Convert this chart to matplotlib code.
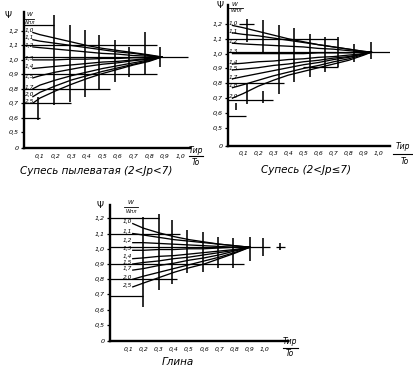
import matplotlib
matplotlib.use("Agg")
import matplotlib.pyplot as plt

plt.rcParams['font.family'] = ['DejaVu Sans']

# ---------------- shared axis data ----------------
x_tick_vals = [0.1, 0.2, 0.3, 0.4, 0.5, 0.6, 0.7, 0.8, 0.9, 1.0]
x_tick_labels = ["0,1", "0,2", "0,3", "0,4", "0,5", "0,6", "0,7", "0,8", "0,9", "1,0"]
y_tick_vals = [0.5, 0.6, 0.7, 0.8, 0.9, 1.0, 1.1, 1.2]
y_tick_labels = ["0,5", "0,6", "0,7", "0,8", "0,9", "1,0", "1,1", "1,2"]

# ---------------- panel 1: Супесь пылеватая ----------------
p1_title = "Супесь пылеватая (2<Jр<7)"
p1_labels = ["1,0", "1,1", "1,2", "1,3", "1,4", "1,5", "1,7", "2,0", "2,5"]
p1_x = [0.055, 0.1, 0.2, 0.3, 0.4, 0.5, 0.6, 0.7, 0.8, 0.88]
p1_psi = [
    [1.19, 1.175, 1.15, 1.125, 1.10, 1.08, 1.065, 1.05, 1.035, 1.02],
    [1.14, 1.13, 1.115, 1.10, 1.085, 1.07, 1.055, 1.045, 1.03, 1.02],
    [1.09, 1.085, 1.075, 1.065, 1.055, 1.045, 1.04, 1.03, 1.025, 1.02],
    [1.00, 1.00, 1.00, 1.005, 1.005, 1.01, 1.01, 1.015, 1.015, 1.02],
    [0.94, 0.945, 0.955, 0.965, 0.975, 0.985, 0.99, 1.00, 1.01, 1.02],
    [0.875, 0.89, 0.915, 0.935, 0.955, 0.97, 0.98, 0.995, 1.005, 1.02],
    [0.80, 0.825, 0.86, 0.89, 0.915, 0.94, 0.96, 0.98, 1.00, 1.02],
    [0.745, 0.775, 0.82, 0.86, 0.89, 0.92, 0.945, 0.97, 0.995, 1.02],
    [0.70, 0.735, 0.785, 0.83, 0.87, 0.905, 0.935, 0.965, 0.99, 1.02],
]
p1_vbar_x = [0.09, 0.19, 0.29, 0.39, 0.48, 0.58, 0.67, 0.77, 0.87]
p1_vbar_lo = [0.58, 0.69, 0.71, 0.745, 0.79, 0.85, 0.88, 0.895, 0.95]
p1_vbar_hi = [0.74, 1.31, 1.24, 1.21, 1.17, 1.14, 1.09, 1.195, 1.09]
p1_hbar_y = [1.24, 1.1, 1.02, 0.9, 0.8, 0.7, 0.6]
p1_hbar_x0 = [0.0, 0.0, 0.0, 0.0, 0.0, 0.0, 0.0]
p1_hbar_x1 = [0.19, 0.85, 1.05, 0.85, 0.55, 0.3, 0.1]

# ---------------- panel 2: Супесь ----------------
p2_title = "Супесь (2<Jр≤7)"
p2_labels = ["1,0", "1,1", "1,2", "1,3", "1,4", "1,5", "1,7", "1,8", "2,0"]
p2_x = [0.03, 0.1, 0.2, 0.3, 0.4, 0.5, 0.6, 0.7, 0.8, 0.9, 0.95]
p2_psi = [
    [1.19, 1.175, 1.15, 1.125, 1.10, 1.08, 1.06, 1.045, 1.03, 1.015, 1.01],
    [1.14, 1.13, 1.12, 1.105, 1.09, 1.075, 1.06, 1.045, 1.03, 1.015, 1.01],
    [1.07, 1.065, 1.06, 1.055, 1.05, 1.045, 1.035, 1.03, 1.02, 1.01, 1.01],
    [1.00, 1.00, 1.00, 1.00, 1.00, 1.00, 1.005, 1.005, 1.005, 1.01, 1.01],
    [0.93, 0.935, 0.945, 0.95, 0.96, 0.965, 0.975, 0.98, 0.99, 1.00, 1.01],
    [0.89, 0.895, 0.905, 0.92, 0.93, 0.945, 0.955, 0.97, 0.98, 1.00, 1.01],
    [0.83, 0.845, 0.865, 0.885, 0.905, 0.925, 0.94, 0.96, 0.975, 1.00, 1.01],
    [0.77, 0.79, 0.82, 0.85, 0.875, 0.90, 0.92, 0.945, 0.965, 0.995, 1.01],
    [0.70, 0.73, 0.78, 0.82, 0.855, 0.88, 0.905, 0.93, 0.955, 0.99, 1.01],
]
p2_vbar_x = [0.05, 0.124, 0.124, 0.234, 0.234, 0.338, 0.44, 0.543, 0.64, 0.73, 0.836, 0.95]
p2_vbar_lo = [0.62, 1.08, 0.66, 1.00, 0.67, 0.73, 0.81, 0.84, 0.877, 0.91, 0.945, 0.966]
p2_vbar_hi = [0.67, 1.236, 0.80, 1.23, 0.75, 1.19, 1.17, 1.135, 1.113, 1.11, 1.067, 1.08]
p2_hbar_y = [1.2, 1.1, 1.01, 0.91, 0.8, 0.69, 0.58]
p2_hbar_x0 = [0.07, 0.0, 0.0, 0.5, 0.0, 0.0, 0.0]
p2_hbar_x1 = [0.17, 0.73, 1.07, 0.73, 0.37, 0.30, 0.12]

# ---------------- panel 3: Глина ----------------
p3_title = "Глина"
p3_labels = ["1,0", "1,1", "1,2", "1,3", "1,4", "1,5", "1,7", "2,0", "2,5"]
p3_x = [0.13, 0.2, 0.3, 0.4, 0.5, 0.6, 0.7, 0.8, 0.9]
p3_psi = [
    [1.165, 1.135, 1.105, 1.08, 1.06, 1.045, 1.03, 1.02, 1.01],
    [1.10, 1.09, 1.075, 1.06, 1.05, 1.04, 1.03, 1.02, 1.01],
    [1.04, 1.04, 1.035, 1.03, 1.025, 1.02, 1.015, 1.01, 1.01],
    [0.99, 0.99, 0.995, 0.995, 1.00, 1.00, 1.005, 1.01, 1.01],
    [0.935, 0.94, 0.95, 0.955, 0.965, 0.975, 0.985, 0.995, 1.01],
    [0.90, 0.91, 0.92, 0.935, 0.945, 0.96, 0.975, 0.99, 1.01],
    [0.86, 0.87, 0.89, 0.905, 0.925, 0.94, 0.96, 0.985, 1.01],
    [0.80, 0.82, 0.845, 0.87, 0.895, 0.92, 0.945, 0.975, 1.01],
    [0.75, 0.775, 0.81, 0.845, 0.875, 0.90, 0.935, 0.97, 1.01],
]
p3_vbar_x = [0.2, 0.3, 0.39, 0.49, 0.59, 0.69, 0.79, 0.9, 0.99, 1.1]
p3_vbar_lo = [0.62, 0.73, 0.77, 0.84, 0.845, 0.875, 0.875, 0.92, 0.955, 0.99]
p3_vbar_hi = [1.21, 1.23, 1.19, 1.125, 1.11, 1.076, 1.07, 1.08, 1.07, 1.04]
p3_hbar_y = [1.2, 1.1, 1.01, 0.9, 0.8, 0.69, 1.01]
p3_hbar_x0 = [-0.02, -0.02, -0.02, -0.02, -0.02, -0.02, 1.07]
p3_hbar_x1 = [0.30, 0.44, 1.03, 0.86, 0.42, 0.20, 1.13]

W, H = 414, 373
fig = plt.figure(figsize=(W / 100, H / 100), dpi=100)


def fx(px):
    return px / W


def fy(py):
    return 1 - py / H


panels = [
    dict(rect=[0.0587, 0.6032, 0.400, 0.3646], xlim=(0, 1.06), ylim=(0.389, 1.332),
         x=p1_x, psi=p1_psi, labels=p1_labels, lab_x=0.004, lab_ha='left',
         vx=p1_vbar_x, vlo=p1_vbar_lo, vhi=p1_vbar_hi,
         hy=p1_hbar_y, hx0=p1_hbar_x0, hx1=p1_hbar_x1,
         title=p1_title, title_xy=(96, 171),
         psi_xy=(8, 15), w_xy=(29, 14), wpl_xy=(29, 23), wline=(24, 34, 18.5),
         t_xy=(196, 150), to_xy=(196, 162), tline=(189, 203, 156.5)),
    dict(rect=[0.5507, 0.6099, 0.3913, 0.3767], xlim=(0, 1.073), ylim=(0.38, 1.328),
         x=p2_x, psi=p2_psi, labels=p2_labels, lab_x=0.004, lab_ha='left',
         vx=p2_vbar_x, vlo=p2_vbar_lo, vhi=p2_vbar_hi,
         hy=p2_hbar_y, hx0=p2_hbar_x0, hx1=p2_hbar_x1,
         title=p2_title, title_xy=(306, 170),
         psi_xy=(220, 6), w_xy=(234, 4), wpl_xy=(236, 11), wline=(229, 243, 7.5),
         t_xy=(403, 146), to_xy=(405, 161), tline=(393, 412, 154)),
    dict(rect=[0.2657, 0.0858, 0.4293, 0.3646], xlim=(-0.02, 1.15), ylim=(0.395, 1.287),
         x=p3_x, psi=p3_psi, labels=p3_labels, lab_x=0.125, lab_ha='right',
         vx=p3_vbar_x, vlo=p3_vbar_lo, vhi=p3_vbar_hi,
         hy=p3_hbar_y, hx0=p3_hbar_x0, hx1=p3_hbar_x1,
         title=p3_title, title_xy=(178, 362),
         psi_xy=(100, 205), w_xy=(130, 203), wpl_xy=(131, 211), wline=(124, 138, 207),
         t_xy=(290, 342), to_xy=(290, 354), tline=(283, 298, 348)),
]

for p in panels:
    ax = fig.add_axes(p['rect'])
    ax.set_xlim(*p['xlim'])
    ax.set_ylim(*p['ylim'])
    for s in ['top', 'right']:
        ax.spines[s].set_visible(False)
    for s in ['left', 'bottom']:
        ax.spines[s].set_linewidth(1.7)
        ax.spines[s].set_color('black')
    ax.patch.set_alpha(0)

    ax.set_xticks(x_tick_vals)
    ax.set_xticklabels(x_tick_labels, fontsize=4.4, style='italic')
    ax.tick_params(axis='x', length=0, pad=4)
    ax.set_yticks([p['ylim'][0]] + y_tick_vals)
    ax.set_yticklabels(["0"] + y_tick_labels, fontsize=4.6, style='italic')
    ax.tick_params(axis='y', length=2.5, width=0.9, pad=1.5)

    # crosses (vertical ranges and horizontal guide lines)
    ax.vlines(p['vx'], p['vlo'], p['vhi'], colors='black', linewidth=1.15)
    ax.hlines(p['hy'], p['hx0'], p['hx1'], colors='black', linewidth=0.9)

    # curves
    for vals, lab in zip(p['psi'], p['labels']):
        ax.plot(p['x'], vals, color='black', linewidth=0.95)
        ax.text(p['lab_x'], vals[0] + 0.012, lab, fontsize=4.2, ha=p['lab_ha'],
                va='center', style='italic')

    # titles and axis annotations
    tx, ty = p['title_xy']
    fig.text(fx(tx), fy(ty), p['title'], fontsize=7.5, style='italic',
             ha='center', va='center')
    fig.text(fx(p['psi_xy'][0]), fy(p['psi_xy'][1]), "Ψ", fontsize=6.5,
             ha='center', va='center')
    fig.text(fx(p['w_xy'][0]), fy(p['w_xy'][1]), "W", fontsize=4.2,
             ha='center', va='center', style='italic')
    fig.text(fx(p['wpl_xy'][0]), fy(p['wpl_xy'][1]), "Wпл", fontsize=3.6,
             ha='center', va='center', style='italic')
    a, b, c = p['wline']
    fig.add_artist(plt.Line2D([fx(a), fx(b)], [fy(c), fy(c)], color='black', linewidth=0.6))
    fig.text(fx(p['t_xy'][0]), fy(p['t_xy'][1]), "Tир", fontsize=5.5,
             ha='center', va='center', style='italic')
    fig.text(fx(p['to_xy'][0]), fy(p['to_xy'][1]), "To", fontsize=5.5,
             ha='center', va='center', style='italic')
    a, b, c = p['tline']
    fig.add_artist(plt.Line2D([fx(a), fx(b)], [fy(c), fy(c)], color='black', linewidth=0.8))

fig.savefig("out.png", dpi=100)
